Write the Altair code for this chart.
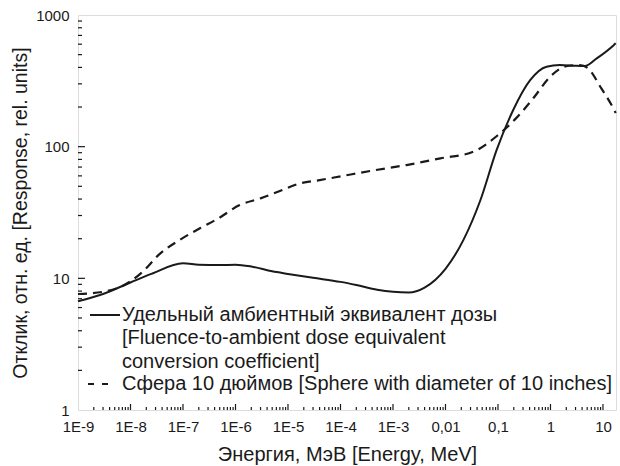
import altair as alt
import pandas as pd

# ---- data ----
h_energy = [1e-9, 3e-9, 1e-8, 2.5e-8, 1e-7, 2e-7, 5e-7, 1e-6, 2e-6, 5e-6, 1e-5, 3e-5,
            1e-4, 2e-4, 5e-4, 1e-3, 2e-3, 4e-3, 1e-2, 2.2e-2, 4.6e-2, 9.4e-2, 0.195,
            0.41, 0.84, 1.5, 2.7, 4.5, 7.6, 16, 17.5]
h_value = [6.7, 7.6, 9.3, 10.8, 13.0, 12.7, 12.6, 12.7, 12.3, 11.3, 10.8, 10.1,
           9.4, 8.9, 8.2, 7.9, 7.8, 8.5, 11.8, 19.6, 39, 94, 190,
           320, 405, 417, 412, 409, 468, 590, 610]

s_energy = [1e-9, 3e-9, 6e-9, 1e-8, 1.7e-8, 3.4e-8, 8.7e-8, 2.1e-7, 4.7e-7, 1.2e-6,
            3e-6, 7e-6, 1.7e-5, 4e-5, 1e-4, 4.2e-4, 1.8e-3, 8e-3, 3.4e-2, 0.094,
            0.22, 0.47, 0.98, 2.0, 3.6, 5.2, 9.3, 15.8, 17.5]
s_value = [7.6, 7.9, 8.5, 9.5, 11.2, 15, 19.6, 24, 28.5, 36,
           40.5, 46, 52.6, 55.7, 59.5, 66, 72.5, 81.5, 91.5, 120,
           164, 233, 339, 409, 417, 393, 277, 195, 180]

x_major = [1e-9, 1e-8, 1e-7, 1e-6, 1e-5, 1e-4, 1e-3, 1e-2, 1e-1, 1, 10]
x_labels = ["1E-9", "1E-8", "1E-7", "1E-6", "1E-5", "1E-4", "1E-3", "0,01", "0,1", "1", "10"]
y_major = [1, 10, 100, 1000]

legend_lines = ["Удельный амбиентный эквивалент дозы",
                "[Fluence-to-ambient dose equivalent",
                "conversion coefficient]",
                "Сфера 10 дюймов [Sphere with diameter of 10 inches]"]

x_title = "Энергия, МэВ [Energy, MeV]"
y_title = "Отклик, отн. ед. [Response, rel. units]"

# ---- build tables ----
W, H = 538, 395
X_DOMAIN = [1e-9, 17.7]
Y_DOMAIN = [1, 1000]
FONT = "Liberation Sans"
INK = "#1a1a1a"

x_minor = [m * d for d in x_major[:-1] for m in range(2, 10)] + [m * 10 for m in range(2, 10) if m * 10 <= X_DOMAIN[1]]
y_minor = [m * d for d in y_major[:-1] for m in range(2, 10)]

h_df = pd.DataFrame({"E": h_energy, "R": h_value})
s_df = pd.DataFrame({"E": s_energy, "R": s_value})

xs = alt.Scale(type="log", domain=X_DOMAIN, nice=False)
ys = alt.Scale(type="log", domain=Y_DOMAIN, nice=False)

label_expr = "[" + ",".join(f"'{l}'" for l in x_labels) + "][round(log(datum.value)/LN10)+9]"

x_axis = alt.Axis(values=x_major, labelExpr=label_expr, title=x_title, grid=False,
                  ticks=False, domain=False, labelPadding=9, labelFontSize=15,
                  labelFont=FONT, labelColor=INK, titleFont=FONT, titleFontSize=20,
                  titleFontWeight="normal", titleColor=INK, titlePadding=10,
                  labelFlush=False, labelOverlap=False)
y_axis = alt.Axis(values=y_major, format="d", title=y_title, grid=False,
                  ticks=False, domain=False, labelPadding=9, labelFontSize=15,
                  labelFont=FONT, labelColor=INK, titleFont=FONT, titleFontSize=19.5,
                  titleFontWeight="normal", titleColor=INK, titlePadding=5,
                  labelFlush=False, labelOverlap=False)

h_line = alt.Chart(h_df).mark_line(color=INK, strokeWidth=2, interpolate="monotone").encode(
    x=alt.X("E:Q", scale=xs, axis=x_axis),
    y=alt.Y("R:Q", scale=ys, axis=y_axis),
)
s_line = alt.Chart(s_df).mark_line(color=INK, strokeWidth=2.2, strokeDash=[9, 6],
                                   interpolate="monotone").encode(
    x=alt.X("E:Q", scale=xs),
    y=alt.Y("R:Q", scale=ys),
)

def xticks(vals, length):
    return alt.Chart(pd.DataFrame({"E": vals})).mark_rule(color=INK, strokeWidth=1.2).encode(
        x=alt.X("E:Q", scale=xs), y=alt.value(H), y2=alt.value(H - length))

def yticks(vals, length):
    return alt.Chart(pd.DataFrame({"R": vals})).mark_rule(color=INK, strokeWidth=1.2).encode(
        y=alt.Y("R:Q", scale=ys), x=alt.value(0), x2=alt.value(length))

ticks = [xticks(x_major[1:], 6), xticks(x_minor, 3), yticks(y_major[1:-1], 7), yticks(y_minor, 4)]

# legend (inside plot, bottom-left)
leg_y = [300, 323, 346.5, 369]
leg_df = pd.DataFrame({"t": legend_lines, "y": leg_y})
leg_text = alt.Chart(leg_df).mark_text(align="left", baseline="middle", font=FONT,
                                       fontSize=20, color=INK).encode(
    text="t:N", x=alt.value(44), y=alt.Y("y:Q", scale=None))
leg_solid = alt.Chart(pd.DataFrame({"a": [0]})).mark_rule(color=INK, strokeWidth=2).encode(
    x=alt.value(12), x2=alt.value(42), y=alt.value(leg_y[0]))
leg_dash = alt.Chart(pd.DataFrame({"a": [0]})).mark_rule(color=INK, strokeWidth=2.2,
                                                         strokeDash=[6, 8]).encode(
    x=alt.value(10), x2=alt.value(34), y=alt.value(leg_y[3]))

chart = alt.layer(h_line, s_line, *ticks, leg_solid, leg_dash, leg_text).properties(
    width=W, height=H,
    autosize=alt.AutoSizeParams(type="none"),
    padding={"left": 78, "top": 15, "right": 4, "bottom": 56},
).configure_view(stroke=INK, strokeWidth=1.6).configure(background="white")

chart.save("out.html", embed_options={"renderer": "svg", "actions": False})
